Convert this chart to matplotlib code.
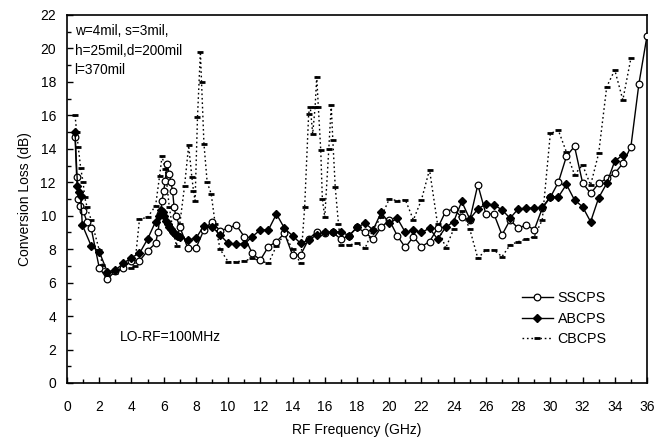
import matplotlib
matplotlib.use("Agg")
import matplotlib.pyplot as plt
from matplotlib.ticker import MultipleLocator

plt.rcParams['font.family'] = ['Liberation Sans', 'DejaVu Sans']

# ---- data ----
ss_f = [0.5, 0.6, 0.7, 0.8, 1.0, 1.25, 1.5, 2.0, 2.5, 3.0, 3.5, 4.0, 4.5, 5.0, 5.5, 5.65,
        5.8, 5.9, 6.0, 6.1, 6.2, 6.35, 6.45, 6.55, 6.65, 6.75, 7.0, 7.5, 8.0, 8.5, 9.0,
        9.5, 10.0, 10.5, 11.0, 11.5, 12.0, 12.5, 13.0, 13.5, 14.0, 14.5, 15.0, 15.5,
        16.0, 16.5, 17.0, 17.5, 18.0, 18.5, 19.0, 19.5, 20.0, 20.5, 21.0, 21.5, 22.0,
        22.5, 23.0, 23.5, 24.0, 24.5, 25.0, 25.5, 26.0, 26.5, 27.0, 27.5, 28.0, 28.5,
        29.0, 29.5, 30.0, 30.5, 31.0, 31.5, 32.0, 32.5, 33.0, 33.5, 34.0, 34.5, 35.0,
        35.5, 36.0]
ss_db = [14.7, 12.3, 11.0, 10.6, 10.3, 9.6, 9.25, 6.9, 6.2, 6.7, 6.9, 7.3, 7.3, 7.9, 8.35, 9.05,
         10.1, 10.9, 11.5, 12.1, 13.1, 12.5, 12.0, 11.5, 10.5, 10.0, 9.35, 8.05, 8.05, 9.15, 9.65,
         9.1, 9.25, 9.45, 8.75, 7.75, 7.35, 8.15, 8.45, 8.95, 7.65, 7.65, 8.6, 9.05,
         8.95, 9.0, 8.6, 8.8, 9.3, 9.0, 8.6, 9.3, 9.75, 8.8, 8.1, 8.75, 8.15,
         8.45, 9.25, 10.25, 10.4, 9.9, 9.75, 11.85, 10.1, 10.1, 8.85, 9.75, 9.25, 9.45,
         9.15, 10.45, 11.1, 12.0, 13.55, 14.15, 11.97, 11.33, 11.93, 12.23, 12.53, 13.13, 14.12,
         17.9, 20.75]

ab_f = [0.5, 0.65, 0.75, 0.85, 0.95, 1.5, 2.0, 2.5, 3.0, 3.5, 4.0, 4.5, 5.0, 5.5, 5.7,
        5.85, 5.95, 6.05, 6.15, 6.25, 6.35, 6.45, 6.55, 6.65, 6.75, 6.9, 7.0, 7.5, 8.0,
        8.5, 9.0, 9.5, 10.0, 10.5, 11.0, 11.5, 12.0, 12.5, 13.0, 13.5, 14.0, 14.5, 15.0,
        15.5, 16.0, 16.5, 17.0, 17.5, 18.0, 18.5, 19.0, 19.5, 20.0, 20.5, 21.0, 21.5,
        22.0, 22.5, 23.0, 23.5, 24.0, 24.5, 25.0, 25.5, 26.0, 26.5, 27.0, 27.5, 28.0,
        28.5, 29.0, 29.5, 30.0, 30.5, 31.0, 31.5, 32.0, 32.5, 33.0, 33.5, 34.0, 34.5]
ab_db = [15.0, 11.8, 11.4, 11.2, 9.45, 8.2, 7.85, 6.65, 6.75, 7.15, 7.5, 7.75, 8.6, 9.65, 10.0,
         10.35, 10.2, 10.0, 9.7, 9.5, 9.3, 9.2, 9.05, 8.95, 8.85, 8.8, 8.75, 8.55, 8.65,
         9.4, 9.35, 8.85, 8.35, 8.3, 8.3, 8.75, 9.15, 9.15, 10.1, 9.25, 8.8, 8.35, 8.55,
         8.85, 9.05, 9.0, 9.05, 8.8, 9.3, 9.55, 9.15, 10.2, 9.55, 9.85, 9.0, 9.15,
         9.0, 9.25, 8.6, 9.3, 9.65, 10.85, 9.8, 10.4, 10.7, 10.65, 10.35, 9.85, 10.4,
         10.45, 10.45, 10.5, 11.13, 11.13, 11.87, 10.94, 10.54, 9.64, 11.07, 11.93, 13.27, 13.63]

cb_f = [0.5, 0.6, 0.7, 0.85, 1.0, 1.1, 1.25, 1.5, 2.0, 2.2, 2.5, 3.0, 3.5, 4.0, 4.2, 4.5,
        5.0, 5.5, 5.75, 5.9, 6.1, 6.35, 6.6, 6.8, 7.0, 7.3, 7.55, 7.75, 7.85, 7.95, 8.1,
        8.28, 8.35, 8.5, 8.7, 8.95, 9.2, 9.5, 10.0, 10.5, 11.0, 11.5, 12.0, 12.5, 13.0,
        13.5, 14.0, 14.5, 14.75, 15.0, 15.1, 15.25, 15.4, 15.5, 15.6, 15.75, 15.85, 16.0,
        16.25, 16.4, 16.5, 16.65, 16.85, 17.0, 17.5, 18.0, 18.5, 19.0, 19.5, 20.0, 20.5,
        21.0, 21.5, 22.0, 22.5, 23.0, 23.5, 24.0, 24.5, 25.0, 25.5, 26.0, 26.5, 27.0,
        27.5, 28.0, 28.5, 29.0, 29.5, 30.0, 30.5, 31.0, 31.5, 32.0, 32.5, 33.0, 33.5,
        34.0, 34.5, 35.0]
cb_db = [16.0, 15.0, 14.1, 12.85, 12.0, 11.1, 10.5, 9.75, 7.95, 7.05, 6.45, 6.55, 6.85, 6.85, 7.0, 9.8,
         9.9, 10.6, 12.4, 13.55, 12.8, 10.5, 9.0, 8.2, 9.5, 11.8, 14.2, 12.3, 11.5, 10.9, 15.9,
         19.8, 18.0, 14.3, 12.0, 11.3, 9.5, 8.0, 7.25, 7.25, 7.3, 7.45, 7.3, 7.15, 8.2,
         8.9, 8.0, 7.15, 10.5, 16.1, 16.5, 14.9, 16.5, 18.3, 16.5, 13.9, 11.0, 9.9,
         14.0, 16.6, 14.5, 11.7, 9.5, 8.25, 8.25, 8.35, 8.05, 9.2, 9.9, 11.0, 10.9,
         10.95, 9.75, 10.95, 12.75, 9.5, 8.05, 9.2, 10.3, 9.2, 7.45, 7.95, 7.95, 7.55,
         8.25, 8.45, 8.6, 8.75, 9.75, 14.92, 15.1, 13.8, 12.45, 13.03, 11.83, 13.73, 17.71,
         18.71, 16.92, 19.41]

x_ticks = list(range(0, 37, 2))
y_ticks = list(range(0, 23, 2))

fig = plt.figure(figsize=(6.64, 4.38), dpi=100)
ax = fig.add_axes([0.1009, 0.1256, 0.8735, 0.8402])

ax.plot(ss_f, ss_db, color='black', lw=1.0, marker='o', markersize=4.8,
        markerfacecolor='white', markeredgecolor='black', markeredgewidth=0.9,
        label='SSCPS', zorder=3)
ax.plot(ab_f, ab_db, color='black', lw=1.0, marker='D', markersize=3.6,
        markerfacecolor='black', markeredgecolor='black', label='ABCPS', zorder=4)
ax.plot(cb_f, cb_db, color='black', lw=1.0, linestyle=(0, (1.2, 2.0)), marker='_',
        markersize=4.5, markeredgewidth=2.0, label='CBCPS', zorder=2)

ax.set_xlim(0, 36)
ax.set_ylim(0, 22)
ax.set_xticks(x_ticks)
ax.set_yticks(y_ticks)
ax.xaxis.set_minor_locator(MultipleLocator(1))
ax.yaxis.set_minor_locator(MultipleLocator(1))
ax.tick_params(which='both', direction='in', top=False, right=False,
               labelsize=10, pad=8)
ax.tick_params(which='major', length=4, width=1)
ax.tick_params(which='minor', length=3, width=1)
ax.tick_params(axis='x', pad=12)
for s in ax.spines.values():
    s.set_linewidth(1.2)

ax.set_xlabel('RF Frequency (GHz)', fontsize=10, labelpad=7)
ax.set_ylabel('Conversion Loss (dB)', fontsize=10, labelpad=6)

ax.text(0.013, 0.975, 'w=4mil, s=3mil,\nh=25mil,d=200mil\nl=370mil',
        transform=ax.transAxes, fontsize=9.8, va='top', ha='left', linespacing=1.5)
ax.text(0.092, 0.125, 'LO-RF=100MHz', transform=ax.transAxes, fontsize=10,
        va='center', ha='left')

leg = ax.legend(loc='lower right', bbox_to_anchor=(0.94, 0.085), frameon=False,
                fontsize=10.3, handlelength=2.2, handletextpad=0.3, labelspacing=0.45,
                borderaxespad=0)

fig.savefig('out.png', dpi=100)
